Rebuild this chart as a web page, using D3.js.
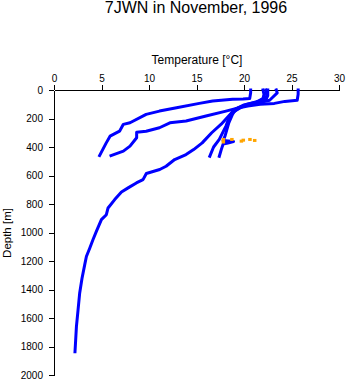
<!DOCTYPE html>
<html>
<head>
<meta charset="utf-8">
<script src="https://cdn.jsdelivr.net/npm/d3@7"></script>
<style>
  html, body { margin: 0; padding: 0; background: #fff; }
  svg { display: block; font-family: "Liberation Sans", Arial, Helvetica, sans-serif; }
</style>
</head>
<body>
<svg id="chart" width="348" height="384"></svg>
<script>
// ---- data: [temperature °C, depth m] ----
const titleText = "7JWN in November, 1996";
const xLabel = "Temperature [°C]";
const yLabel = "Depth [m]";
const xTicks = [0, 5, 10, 15, 20, 25, 30];
const yTicks = [0, 200, 400, 600, 800, 1000, 1200, 1400, 1600, 1800, 2000];

const profileA = [[20.7,0],[20.7,20],[20.6,60],[19.9,63],[18.8,65],[16.7,77],[15.3,94],[12.9,124],[11.1,148],[9.7,171],[8.0,230],[7.3,241],[6.9,289],[5.9,324],[5.5,371],[4.8,460]];
const profileB = [[25.7,0],[25.7,30],[25.6,72],[24.3,80],[23.2,94],[21.7,100],[20.4,112],[19.5,124],[18.1,148],[16.0,183],[13.9,218],[12.2,230],[11.1,265],[9.7,289],[8.7,296],[8.7,335],[8.0,394],[7.3,429],[6.0,460]];
const profileC = [[23.4,0],[23.5,20],[23.05,49],[22.7,72],[21.5,90],[20.0,110],[18.9,140],[18.5,183],[18.1,253],[17.4,347],[16.8,400],[16.4,465]];
const profileD = [[22.0,0],[22.1,30],[22.0,60],[21.3,85],[20.0,105],[19.2,130],[18.8,170],[18.4,230],[18.0,324],[17.8,355],[18.9,362],[18.3,372],[17.8,380],[17.6,420],[17.4,465]];
const profileE = [[22.3,0],[22.4,42],[21.65,77],[20.25,101],[18.7,160],[17.6,240],[16.6,300],[15.6,371],[14.7,418],[13.9,453],[12.7,488],[11.8,535],[11.13,558],[9.72,586],[9.37,629],[8.67,652],[7.8,687],[7.1,716],[6.39,769],[5.69,828],[5.51,875],[4.99,910],[4.46,992],[4.1,1051],[3.76,1110],[3.41,1168],[3.23,1227],[2.95,1321],[2.7,1427],[2.53,1544],[2.36,1661],[2.28,1755],[2.21,1837]];
const profileF = [[22.5,0],[22.5,40],[22.3,70],[21.0,95],[19.6,120],[19.0,150]];
const orangePoints = [[17.8,347],[17.8,365],[18.7,347],[19.7,359],[19.9,352],[20.6,347],[21.1,354]];

const blueProfiles = [profileA, profileB, profileC, profileD, profileE, profileF];

// ---- layout ----
const svg = d3.select("#chart");
const x = d3.scaleLinear().domain([0, 30]).range([54, 339]);
const y = d3.scaleLinear().domain([0, 2000]).range([90, 375]);

svg.append("text")
  .attr("x", 196).attr("y", 13)
  .attr("text-anchor", "middle")
  .attr("font-size", 16)
  .text(titleText);

svg.append("text")
  .attr("x", 197).attr("y", 64)
  .attr("text-anchor", "middle")
  .attr("font-size", 12)
  .text(xLabel);

svg.append("text")
  .attr("transform", "translate(11,233) rotate(-90)")
  .attr("text-anchor", "middle")
  .attr("font-size", 11.5)
  .text(yLabel);

const gx = svg.append("g")
  .attr("transform", `translate(0,${y(0)})`)
  .call(d3.axisTop(x).tickValues(xTicks).tickFormat(d3.format("d")).tickSize(5).tickSizeOuter(0).tickPadding(3));
const gy = svg.append("g")
  .attr("transform", `translate(${x(0)},0)`)
  .call(d3.axisLeft(y).tickValues(yTicks).tickFormat(d3.format("d")).tickSize(5).tickSizeOuter(0).tickPadding(6));

[gx, gy].forEach(g => {
  g.selectAll("text").attr("font-size", 10).attr("font-family", "Liberation Sans, Arial, sans-serif").attr("fill", "#000");
  g.selectAll("line, path").attr("stroke", "#000").attr("shape-rendering", "crispEdges");
});

const line = d3.line().x(d => x(d[0])).y(d => y(d[1]));

svg.append("g").selectAll("path")
  .data(blueProfiles)
  .join("path")
  .attr("d", line)
  .attr("fill", "none")
  .attr("stroke", "#0000ff")
  .attr("stroke-width", 3)
  .attr("stroke-linejoin", "round")
  .attr("stroke-linecap", "square");

svg.append("g").selectAll("rect")
  .data(orangePoints)
  .join("rect")
  .attr("x", d => x(d[0]) - 1.5)
  .attr("y", d => y(d[1]) - 1.5)
  .attr("width", 3.5)
  .attr("height", 3)
  .attr("fill", "#ffa500");
</script>
</body>
</html>
